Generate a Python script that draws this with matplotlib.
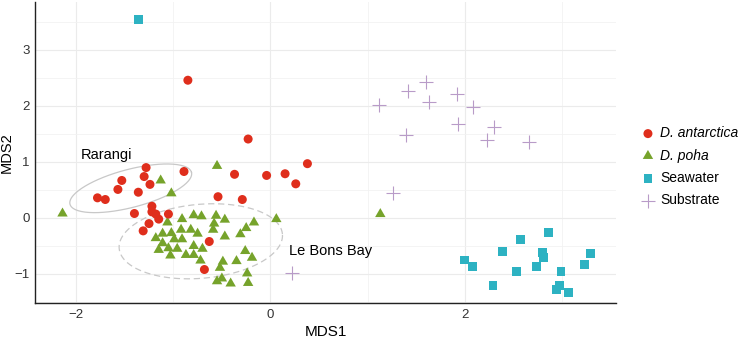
import numpy as np
import matplotlib
matplotlib.use('Agg')
import matplotlib.pyplot as plt

plt.rcParams['font.family'] = ['Liberation Sans', 'DejaVu Sans']

# MDS scores
antarctica_x = [-0.85, -0.23, 0.38, -1.28, -0.89, -0.37, -0.04, 0.15, 0.26, -1.30,
                -1.53, -1.24, -1.57, -1.36, -1.78, -1.70, -0.54, -0.29, -1.22, -1.40,
                -1.22, -1.18, -1.05, -1.15, -1.25, -1.31, -0.63, -0.68]
antarctica_y = [2.46, 1.41, 0.97, 0.90, 0.83, 0.78, 0.76, 0.79, 0.61, 0.74,
                0.67, 0.60, 0.51, 0.46, 0.36, 0.33, 0.38, 0.33, 0.21, 0.08,
                0.11, 0.07, 0.07, -0.02, -0.10, -0.23, -0.42, -0.92]

poha_x = [-2.14, -0.55, -1.13, -1.02, 0.06, 1.13, -1.06, -0.91, -0.79, -0.71,
          -0.56, -0.47, -0.58, -0.59, -0.17, -0.25, -0.31, -0.47, -1.18, -1.11,
          -1.02, -0.92, -0.82, -0.75, -0.91, -0.99, -1.11, -1.15, -1.05, -0.96,
          -0.79, -0.70, -1.03, -0.87, -0.79, -0.72, -0.49, -0.35, -0.26, -0.19,
          -0.52, -0.24, -0.50, -0.41, -0.23, -0.55]
poha_y = [0.08, 0.93, 0.67, 0.44, -0.02, 0.07, -0.08, -0.02, 0.05, 0.03,
          0.04, -0.03, -0.10, -0.21, -0.08, -0.18, -0.29, -0.33, -0.36, -0.28,
          -0.27, -0.21, -0.21, -0.28, -0.38, -0.38, -0.45, -0.57, -0.54, -0.55,
          -0.50, -0.55, -0.67, -0.66, -0.66, -0.76, -0.78, -0.77, -0.59, -0.71,
          -0.89, -0.99, -1.08, -1.17, -1.16, -1.13]

seawater_x = [-1.36, 2.00, 2.08, 2.29, 2.39, 2.53, 2.57, 2.74, 2.80, 2.81,
              2.86, 2.99, 2.97, 2.94, 3.07, 3.23, 3.29]
seawater_y = [3.54, -0.75, -0.87, -1.20, -0.60, -0.96, -0.38, -0.87, -0.61, -0.70,
              -0.26, -0.95, -1.20, -1.27, -1.33, -0.83, -0.64]

substrate_x = [1.12, 1.41, 1.60, 1.63, 1.92, 2.08, 1.93, 1.39, 2.30, 2.23, 2.66, 1.26, 0.22]
substrate_y = [2.01, 2.27, 2.43, 2.08, 2.21, 1.98, 1.67, 1.48, 1.62, 1.39, 1.35, 0.45, -0.99]

# site ellipses: centre, major axis vector, minor axis vector (data units)
rarangi_ell = [(-1.438, 0.530), (0.625, 0.285), (-0.050, 0.328)]
lebons_ell = [(-0.717, -0.416), (0.840, 0.128), (-0.033, 0.658)]

col_ant = '#DF2E1C'
col_poha = '#76A32B'
col_sea = '#2DB2C2'
col_sub = '#B89BC8'

fig = plt.figure(figsize=(7.4, 3.4), dpi=100)
ax = fig.add_axes([35 / 740, 37 / 340, 581 / 740, 301 / 340])

tri = [(-1, -0.577), (1, -0.577), (0, 1.155)]

ax.scatter(poha_x, poha_y, marker=tri, s=75, color=col_poha, edgecolors='none',
           label='D. poha', zorder=3)
ax.scatter(antarctica_x, antarctica_y, marker='o', s=42, color=col_ant, edgecolors='none',
           label='D. antarctica', zorder=4)
ax.scatter(seawater_x, seawater_y, marker='s', s=40, color=col_sea, edgecolors='none',
           label='Seawater', zorder=3)
ax.scatter(substrate_x, substrate_y, marker='+', s=90, color=col_sub, linewidths=0.8,
           label='Substrate', zorder=3)

t = np.linspace(0, 2 * np.pi, 200)
for ell, ls in [(rarangi_ell, '-'), (lebons_ell, (0, (5, 3)))]:
    (cx, cy), (ax1, ay1), (bx1, by1) = ell
    ex = cx + ax1 * np.cos(t) + bx1 * np.sin(t)
    ey = cy + ay1 * np.cos(t) + by1 * np.sin(t)
    ax.plot(ex, ey, color='#C8C8C8', lw=0.9, ls=ls, zorder=2)

ax.text(-1.953, 1.05, 'Rarangi', fontsize=10.5, va='baseline', ha='left', color='black')
ax.text(0.19, -0.66, 'Le Bons Bay', fontsize=10.5, va='baseline', ha='left', color='black')

ax.set_xlim(-2.423, 3.555)
ax.set_ylim(-1.518, 3.857)
ax.set_xticks([-2, 0, 2])
ax.set_xticks([-1, 1, 3], minor=True)
ax.set_yticks([-1, 0, 1, 2, 3])
ax.set_yticks([-1.5, -0.5, 0.5, 1.5, 2.5, 3.5], minor=True)
ax.set_xticklabels(['\u22122', '0', '2'])
ax.set_yticklabels(['\u22121', '0', '1', '2', '3'])
ax.tick_params(which='both', length=0, labelsize=9.5, labelcolor='#333333', pad=4)
ax.grid(which='major', color='#EBEBEB', lw=0.8)
ax.grid(which='minor', color='#F2F2F2', lw=0.6)
ax.set_axisbelow(True)

for side in ['top', 'right']:
    ax.spines[side].set_visible(False)
for side in ['left', 'bottom']:
    ax.spines[side].set_color('#222222')
    ax.spines[side].set_linewidth(1.0)

ax.set_xlabel('MDS1', fontsize=11, labelpad=3)
ax.set_ylabel('MDS2', fontsize=10.5, labelpad=0.5)

handles, labels = ax.get_legend_handles_labels()
order = [1, 0, 2, 3]
leg = fig.legend([handles[i] for i in order], [labels[i] for i in order],
                 loc='center left', bbox_to_anchor=(641 / 740, 1 - 166.75 / 340),
                 frameon=False, fontsize=10, borderpad=0, borderaxespad=0,
                 handlelength=1.0, handletextpad=0.4, labelspacing=0.6,
                 scatterpoints=1)
leg.get_texts()[0].set_style('italic')
leg.get_texts()[1].set_style('italic')

fig.savefig('out.png', dpi=100)
